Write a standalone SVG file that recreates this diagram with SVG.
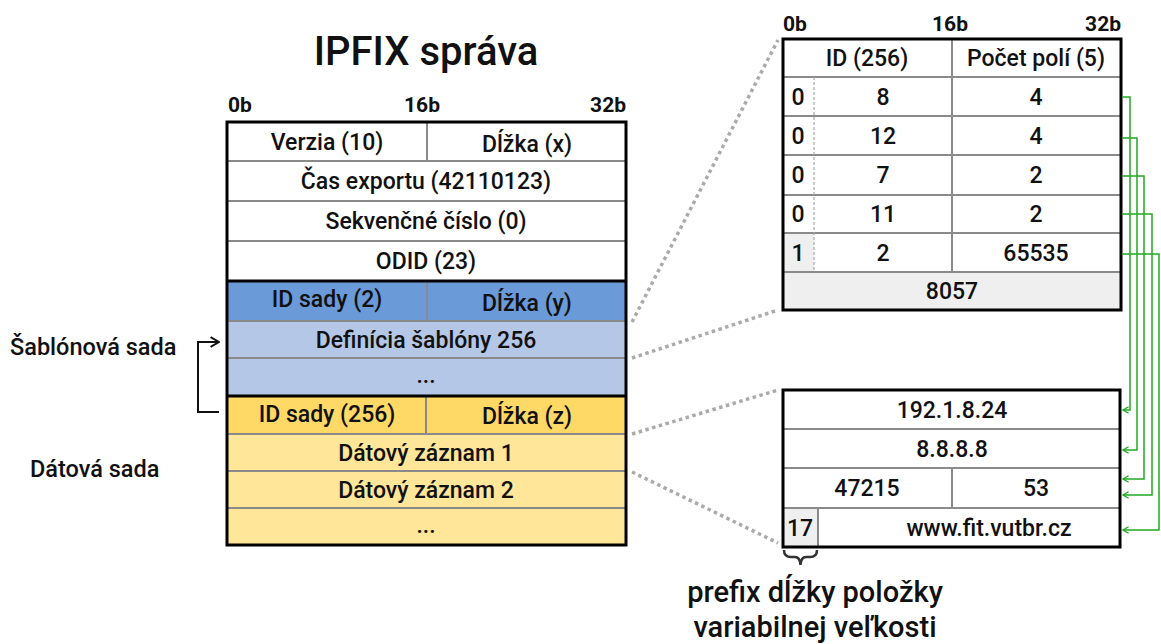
<svg xmlns="http://www.w3.org/2000/svg" width="1161" height="644" viewBox="0 0 1161 644">
<defs>
<style>
text{font-family:Roboto,"Liberation Sans",Arial,sans-serif;font-weight:500;fill:#111;}
.t{font-size:23px;text-anchor:middle;}
.b{font-size:21px;font-weight:bold;}
.ttl{font-size:40px;text-anchor:middle;}
.lbl{font-size:23.5px;}
.note{font-size:29px;text-anchor:middle;}
.out{fill:none;stroke:#000;stroke-width:3;}
.in{fill:none;stroke:#8a8a8a;stroke-width:2;}
.thk{stroke:#000;stroke-width:3;}
.dot{fill:none;stroke:#aaa;stroke-width:3.5;stroke-dasharray:3.5 3.5;}
.g{fill:none;stroke:#22aa22;stroke-width:1.5;marker-end:url(#ga);}
</style>
<marker id="ga" viewBox="0 0 10 10" refX="9" refY="5" markerWidth="8" markerHeight="8" markerUnits="userSpaceOnUse" orient="auto">
<path d="M2,1 L9,5 L2,9" fill="none" stroke="#22aa22" stroke-width="1.6"/>
</marker>
<marker id="ka" viewBox="0 0 10 10" refX="9" refY="5" markerWidth="12" markerHeight="12" markerUnits="userSpaceOnUse" orient="auto">
<path d="M2,1 L9,5 L2,9" fill="none" stroke="#111" stroke-width="1.6"/>
</marker>
</defs>
<rect width="1161" height="644" fill="#fff"/>

<g id="title"><text class="ttl" x="426" y="65">IPFIX správa</text></g>

<g id="ipfix-message">
<text class="b" x="228" y="112">0b</text>
<text class="b" x="422" y="112" text-anchor="middle">16b</text>
<text class="b" x="626" y="112" text-anchor="end">32b</text>
<rect x="227" y="122" width="399" height="159" fill="#fff"/>
<rect x="227" y="281" width="399" height="40" fill="#6a9ad8"/>
<rect x="227" y="321" width="399" height="75" fill="#b4c7e7"/>
<rect x="227" y="396" width="399" height="38" fill="#ffd966"/>
<rect x="227" y="434" width="399" height="111" fill="#ffe699"/>
<path class="in" d="M227 161H626M227 201H626M227 241H626M227 321H626M227 358H626M227 434H626M227 471H626M227 508H626M427 122V161M427 281V321M426 396V434"/>
<path class="thk" d="M227 281H626M227 396H626"/>
<rect class="out" x="227" y="122" width="399" height="423"/>
<text class="t" x="327" y="150">Verzia (10)</text>
<text class="t" x="527" y="152">Dĺžka (x)</text>
<text class="t" x="426" y="189">Čas exportu (42110123)</text>
<text class="t" x="426" y="229">Sekvenčné číslo (0)</text>
<text class="t" x="426" y="269">ODID (23)</text>
<text class="t" x="327" y="307">ID sady (2)</text>
<text class="t" x="527" y="311">Dĺžka (y)</text>
<text class="t" x="426" y="348">Definícia šablóny 256</text>
<text class="t" x="426" y="383">...</text>
<text class="t" x="327" y="422">ID sady (256)</text>
<text class="t" x="527" y="424">Dĺžka (z)</text>
<text class="t" x="426" y="461">Dátový záznam 1</text>
<text class="t" x="426" y="498">Dátový záznam 2</text>
<text class="t" x="426" y="533">...</text>
</g>

<g id="set-labels">
<text class="lbl" x="10" y="355">Šablónová sada</text>
<text class="lbl" x="30" y="477">Dátová sada</text>
</g>

<g id="template-table">
<text class="b" x="783" y="31">0b</text>
<text class="b" x="950" y="31" text-anchor="middle">16b</text>
<text class="b" x="1121" y="31" text-anchor="end">32b</text>
<rect x="783" y="39" width="338" height="271" fill="#fff"/>
<rect x="783" y="233" width="31" height="39" fill="#efefef"/>
<rect x="783" y="272" width="338" height="38" fill="#efefef"/>
<path class="in" d="M783 77H1121M783 116H1121M783 155H1121M783 195H1121M783 233H1121M783 272H1121M952 39V272"/>
<path d="M814 77V272" fill="none" stroke="#aaa" stroke-width="1.2" stroke-dasharray="3 2"/>
<rect class="out" x="783" y="39" width="338" height="271"/>
<text class="t" x="867" y="66">ID (256)</text>
<text class="t" x="1036" y="66">Počet polí (5)</text>
<text class="t" x="798" y="105">0</text><text class="t" x="883" y="105">8</text><text class="t" x="1036" y="105">4</text>
<text class="t" x="798" y="144">0</text><text class="t" x="883" y="144">12</text><text class="t" x="1036" y="144">4</text>
<text class="t" x="798" y="183">0</text><text class="t" x="883" y="183">7</text><text class="t" x="1036" y="183">2</text>
<text class="t" x="798" y="222">0</text><text class="t" x="883" y="222">11</text><text class="t" x="1036" y="222">2</text>
<text class="t" x="798" y="261">1</text><text class="t" x="883" y="261">2</text><text class="t" x="1036" y="261">65535</text>
<text class="t" x="952" y="299">8057</text>
</g>

<g id="data-record">
<rect x="783" y="390" width="337" height="157" fill="#fff"/>
<rect x="783" y="508" width="35" height="39" fill="#efefef"/>
<path class="in" d="M783 429H1120M783 468H1120M783 508H1120M952 468V508M818 508V547"/>
<rect class="out" x="783" y="390" width="337" height="157"/>
<text class="t" x="952" y="418">192.1.8.24</text>
<text class="t" x="952" y="457">8.8.8.8</text>
<text class="t" x="867" y="496">47215</text>
<text class="t" x="1036" y="496">53</text>
<text class="t" x="800" y="536">17</text>
<text class="t" x="989" y="536">www.fit.vutbr.cz</text>
</g>

<g id="prefix-note">
<path d="M784 550Q784 557 791 557L795 557Q800 557 800.5 565Q801 557 806 557L810 557Q817 557 817 550" fill="none" stroke="#333" stroke-width="2.5"/>
<text class="note" x="815" y="602">prefix dĺžky položky</text>
<text class="note" x="815" y="637">variabilnej veľkosti</text>
</g>

<g id="connectors">
<path class="dot" d="M632 322L778 40M632 358L778 310M632 434L778 390M632 472L778 543"/>
<path d="M219 412H198V342H219" fill="none" stroke="#111" stroke-width="2" marker-end="url(#ka)"/>
<path class="g" d="M1122 97H1130V410H1123"/>
<path class="g" d="M1122 138H1137V450H1123"/>
<path class="g" d="M1122 176H1144V479H1123"/>
<path class="g" d="M1122 214H1152V495H1123"/>
<path class="g" d="M1122 254H1159V530H1123"/>
</g>
</svg>
